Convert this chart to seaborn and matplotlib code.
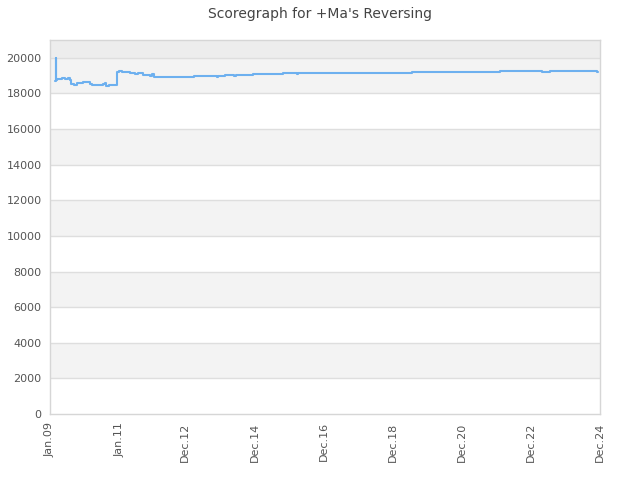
import matplotlib
matplotlib.use("Agg")
import matplotlib.pyplot as plt
import seaborn as sns
import pandas as pd

# Months since Jan 2009
months = [1.7, 2.0, 2.2, 2.4, 4.2, 5.2, 6.3, 6.9, 7.3, 8.3, 9.4, 11.5, 13.2, 13.9,
          14.6, 18.4, 19.1, 19.4, 20.5, 21.5, 22.2, 23.3, 24.0, 25.0, 26.0, 27.8,
          29.5, 30.6, 32.3, 34.7, 35.4, 36.1, 45.1, 50.0, 57.6, 58.0, 58.3, 60.8,
          62.5, 63.9, 64.6, 70.5, 80.9, 85.4, 85.8, 86.1, 105.9, 125.0, 125.7,
          135.4, 145.8, 149.3, 152.8, 156.3, 170.1, 170.8, 171.9, 173.6, 189.2,
          189.9, 190.3]
scores = [18700, 20000, 18750, 18800, 18850, 18800, 18850, 18750, 18550, 18500,
          18600, 18650, 18650, 18550, 18500, 18550, 18600, 18400, 18450, 18500,
          18450, 19200, 19250, 19200, 19200, 19150, 19100, 19150, 19050, 19000,
          19100, 18950, 18950, 19000, 19000, 18950, 19000, 19050, 19050, 19000,
          19050, 19100, 19150, 19150, 19100, 19150, 19150, 19150, 19180, 19200,
          19180, 19200, 19220, 19240, 19240, 19180, 19220, 19240, 19240, 19180,
          19180]

tick_months = [0, 24, 47, 71, 95, 119, 143, 167, 191]
tick_labels = ["Jan.09", "Jan.11", "Dec.12", "Dec.14", "Dec.16", "Dec.18",
               "Dec.20", "Dec.22", "Dec.24"]
y_ticks = list(range(0, 20001, 2000))

sns.set_style("white")
plt.rcParams['font.family'] = ['DejaVu Sans']

df = pd.DataFrame({"month": months, "score": scores})

fig = plt.figure(figsize=(6.4, 4.8), dpi=100)
ax = fig.add_axes([50/640, 1-414/480, 550/640, 374/480])

# alternating bands
for i, lo in enumerate(range(0, 20000, 2000)):
    if i % 2 == 1:
        ax.axhspan(lo, lo + 2000, color="#f3f3f3", zorder=0, lw=0)
ax.axhspan(20000, 21000, color="#ededed", zorder=0, lw=0)
for y in y_ticks[1:]:
    ax.axhline(y, color="#dedede", lw=1, zorder=1)

sns.lineplot(data=df, x="month", y="score", ax=ax, estimator=None, sort=False,
             drawstyle="steps-post", color="#5ea9ef", lw=1.5, alpha=0.9, zorder=3)

ax.set_xlim(0, 191)
ax.set_ylim(0, 21000)
ax.set_xticks(tick_months)
ax.set_xticklabels(tick_labels, rotation=90, fontsize=8, color="#555555")
ax.set_yticks(y_ticks)
ax.set_yticklabels([str(v) for v in y_ticks], fontsize=8, color="#555555")
ax.tick_params(length=0, pad=6)
ax.set_xlabel("")
ax.set_ylabel("")
for s in ax.spines.values():
    s.set_color("#d6d6d6")
    s.set_linewidth(1)

fig.suptitle("Scoregraph for +Ma's Reversing", fontsize=10, color="#444444", y=0.985)
fig.savefig("out.png", dpi=100)
